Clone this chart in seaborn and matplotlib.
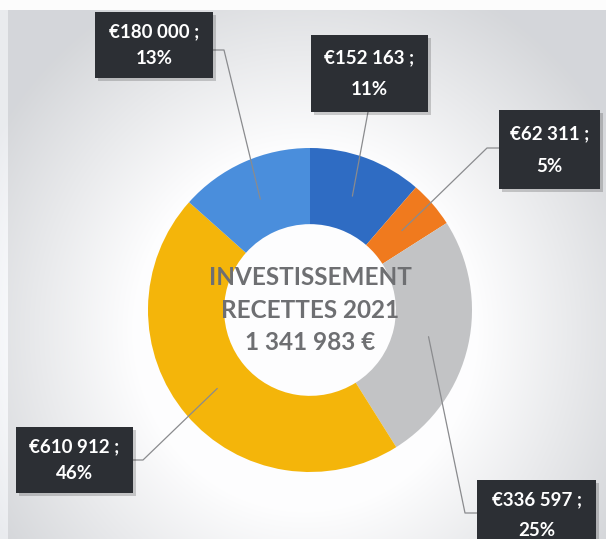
import numpy as np
import matplotlib
matplotlib.use("Agg")
import matplotlib.pyplot as plt
import seaborn as sns
from matplotlib.patches import Rectangle

# ---- data ----
categories = ["Bleu foncé", "Orange", "Gris", "Jaune", "Bleu clair"]
values = [152163, 62311, 336597, 610912, 180000]
value_labels = ["€152 163 ;", "€62 311 ;", "€336 597 ;", "€610 912 ;", "€180 000 ;"]
pct_labels = ["11%", "5%", "25%", "46%", "13%"]
colors = ["#2f6cc3", "#f07a1e", "#c2c3c5", "#f4b50a", "#4a8edc"]
center_lines = ["INVESTISSEMENT", "RECETTES 2021", "1 341 983 €"]

sns.set_theme(style="white")
plt.rcParams["font.family"] = ["Lato", "DejaVu Sans"]

W, H = 606, 539
CX, CY, R = 310, 310, 162

fig = plt.figure(figsize=(W / 100, H / 100), dpi=100)

# background gradient
bg = fig.add_axes([0, 0, 1, 1], zorder=0)
yy, xx = np.mgrid[0:H, 0:W]
d = np.sqrt(((xx - 305) / 1.0) ** 2 + ((yy - 330) / 1.05) ** 2)
t = np.clip((d - 170) / 190, 0, 1)
base = np.array([0.995, 0.995, 0.998])
edge = np.array([0.835, 0.842, 0.855])
img = base[None, None, :] * (1 - t[..., None]) + edge[None, None, :] * t[..., None]
img[:10, :, :] = 0.99
img[:, :8, :] = np.minimum(img[:, :8, :] + 0.08, 0.99)
bg.imshow(img, extent=[0, W, H, 0], aspect="auto")
bg.set_xlim(0, W)
bg.set_ylim(H, 0)
bg.axis("off")

ax = fig.add_axes([0, 0, 1, 1], zorder=1)
ax.patch.set_alpha(0)


def px(x, y):
    return ((x - CX) / R, (CY - y) / R)


wedges, _ = ax.pie(values, colors=colors, startangle=90, counterclock=False,
                   radius=1.0, wedgeprops=dict(width=0.47, linewidth=0))
ax.set_aspect("auto")
ax.set_xlim(-CX / R, (W - CX) / R)
ax.set_ylim(-(H - CY) / R, CY / R)
ax.axis("off")

# center text
for txt, y in zip(center_lines, [277, 310, 343]):
    ax.text(*px(310, y), txt, ha="center", va="center", fontsize=17.5,
            fontweight="bold", color="#6e6f72", zorder=5)

# label boxes: (left, top, right, bottom) in pixels, and leader path points
boxes = [
    (311, 35, 428, 112),
    (499, 110, 600, 189),
    (477, 480, 596, 545),
    (16, 427, 133, 493),
    (95, 12, 213, 78),
]
leader_ends = [
    [(368, 112)],
    [(487, 148), (499, 148)],
    [(465, 513), (477, 513)],
    [(143, 460), (133, 460)],
    [(224, 50), (213, 50)],
]

total = sum(values)
angle = 90.0
for i, v in enumerate(values):
    span = 360.0 * v / total
    mid = np.deg2rad(angle - span / 2)
    angle -= span
    sx, sy = 0.75 * np.cos(mid), 0.75 * np.sin(mid)
    pts = [(sx, sy)] + [px(*p) for p in leader_ends[i]]
    ax.plot([p[0] for p in pts], [p[1] for p in pts], color="#8a8b8e",
            lw=0.9, zorder=4)
    l, t_, r, b = boxes[i]
    x0, y0 = px(l, b)
    x1, y1 = px(r, t_)
    ax.add_patch(Rectangle((x0 + 3 / R, y0 - 3 / R), x1 - x0, y1 - y0,
                           facecolor="#000000", alpha=0.18, lw=0, zorder=5))
    ax.add_patch(Rectangle((x0, y0), x1 - x0, y1 - y0,
                           facecolor="#2c2f34", lw=0, zorder=6))
    cxb = (l + r) / 2
    hb = min(b, H) - t_
    ax.text(*px(cxb, t_ + 20 if b > H else t_ + hb * 0.30), value_labels[i],
            ha="center", va="center", color="white", fontsize=13.5,
            fontweight="bold", zorder=7)
    ax.text(*px(cxb, t_ + 51 if b > H else t_ + hb * 0.71), pct_labels[i],
            ha="center", va="center", color="white", fontsize=13.5,
            fontweight="bold", zorder=7)

fig.savefig("out.png", dpi=100)
